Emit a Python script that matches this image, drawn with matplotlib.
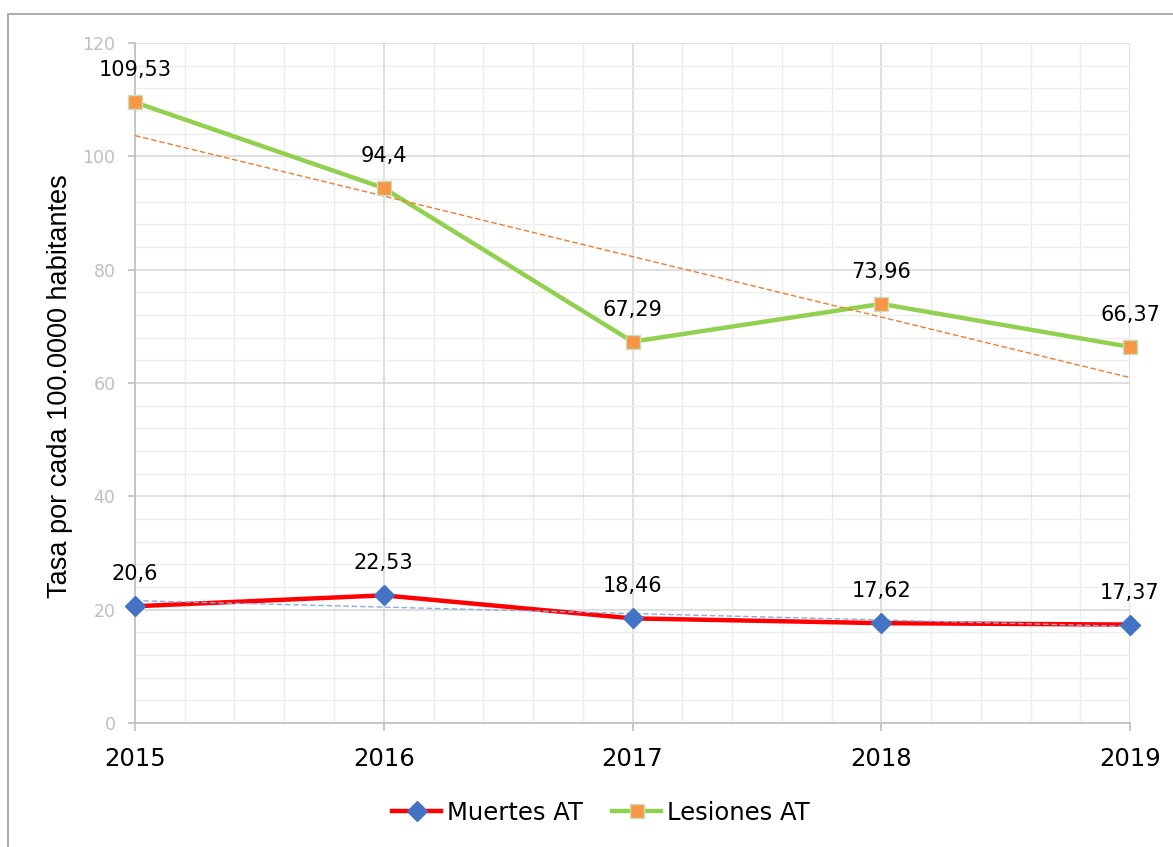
import matplotlib
matplotlib.use('Agg')
import matplotlib.pyplot as plt
from matplotlib.lines import Line2D
from matplotlib.patches import Rectangle
from matplotlib.ticker import MultipleLocator
import numpy as np

years = [2015, 2016, 2017, 2018, 2019]
muertes = [20.6, 22.53, 18.46, 17.62, 17.37]
lesiones = [109.53, 94.4, 67.29, 73.96, 66.37]
ylabel = "Tasa por cada 100.0000 habitantes"

plt.rcParams['font.family'] = ['DejaVu Sans']

fig = plt.figure(figsize=(11.73, 8.47), dpi=100)
ax = fig.add_axes([135 / 1173, 1 - 723 / 847, 995 / 1173, 680 / 847])

# marco del grafico
fig.patches.append(Rectangle((8 / 1173, -0.1), 1.2, 1 - 14 / 847 + 0.1,
                             transform=fig.transFigure, fill=False,
                             edgecolor='#a6a6a6', lw=1.3))

series = [
    (muertes, '#ff0000', 'D', '#4472c4', '#4472c4', 10, '#8faadc', "Muertes AT"),
    (lesiones, '#92d050', 's', '#f79646', '#c5e0b4', 9.5, '#ed7d31', "Lesiones AT"),
]

x = np.array(years)
handles = []
for vals, lc, mk, mfc, mec, ms, tc, name in series:
    ax.plot(years, vals, color=lc, lw=3.2, zorder=3, solid_capstyle='round')
    coef = np.polyfit(x, vals, 1)  # linea de tendencia
    ax.plot(x, np.polyval(coef, x), color=tc, lw=1, ls=(0, (4, 2)), zorder=4)
    ax.plot(years, vals, ls='none', marker=mk, ms=ms, mfc=mfc, mec=mec,
            mew=1, zorder=5, clip_on=False)
    for xi, v in zip(years, vals):
        ax.annotate(str(v).replace('.', ','), (xi, v), xytext=(0, 23),
                    textcoords='offset points', ha='center', va='center',
                    fontsize=15, color='black', zorder=6)
    handles.append(Line2D([], [], color=lc, lw=3.2, marker=mk, ms=ms, mfc=mfc,
                          mec=mec, label=name))

ax.set_xlim(2015, 2019)
ax.set_ylim(0, 120)
ax.set_xticks(years)
ax.set_xticklabels([str(y) for y in years])
ax.set_yticks(range(0, 121, 20))
ax.xaxis.set_minor_locator(MultipleLocator(0.2))
ax.yaxis.set_minor_locator(MultipleLocator(4))
ax.grid(which='major', color='#d9d9d9', lw=1.2, zorder=1)
ax.grid(which='minor', color='#ededed', lw=1, zorder=0)
ax.set_axisbelow(True)

for s in ['top', 'right']:
    ax.spines[s].set_visible(False)
for s in ['left', 'bottom']:
    ax.spines[s].set_color('#bfbfbf')
    ax.spines[s].set_linewidth(1.2)

ax.tick_params(axis='x', which='major', direction='out', length=6, width=1.2,
               color='#bfbfbf', labelsize=17.5, labelcolor='black', pad=11)
ax.tick_params(axis='y', which='major', direction='out', length=5, width=1.2,
               color='#bfbfbf', labelsize=12.5, labelcolor='#bfbfbf', pad=9)
ax.tick_params(which='minor', length=0)

fig.text(60 / 1173, 1 - 386 / 847, ylabel, rotation=90, ha='center',
         va='center', fontsize=19.5, family='Liberation Sans')

fig.legend(handles=handles, loc='center', bbox_to_anchor=(601 / 1173, 1 - 813 / 847),
           ncol=2, frameon=False, fontsize=17.5, handlelength=2.0,
           handletextpad=0.25, columnspacing=1.2)

fig.savefig('out.png', dpi=100)
